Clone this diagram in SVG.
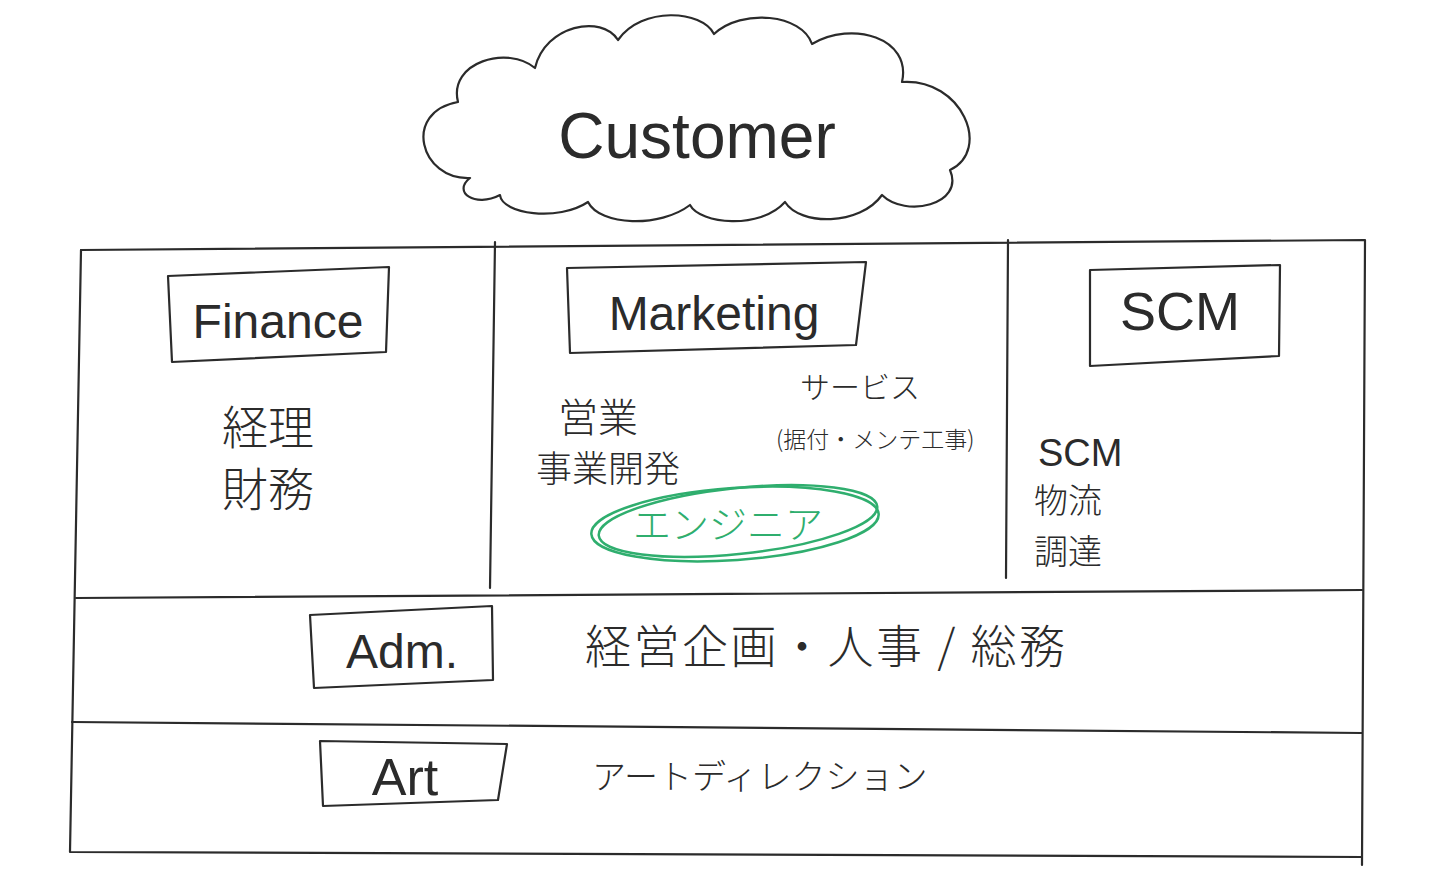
<svg xmlns="http://www.w3.org/2000/svg" width="1440" height="885" viewBox="0 0 1440 885">
<style>
.ln{fill:none;stroke:#2b2b2b;stroke-width:2.2;stroke-linecap:round;stroke-linejoin:round}
.t{font-family:"Noto Sans CJK JP","Liberation Sans",sans-serif;fill:#2b2b2b;font-weight:300}
.lat{font-family:"Liberation Sans","DejaVu Sans",sans-serif;fill:#2b2b2b}
.g{fill:none;stroke:#2fae6e;stroke-width:2.5}
</style>
<rect width="1440" height="885" fill="#ffffff"/>
<g id="customer">
<path class="ln" d="M470,178 C420,180 402,112 458,102 C448,62 508,45 535,68 C545,25 602,14 618,40 C642,6 702,10 714,34 C742,8 802,14 812,44 C852,20 912,38 902,82 C962,78 992,150 950,170 C965,205 905,218 882,195 C860,226 800,226 785,202 C760,230 700,224 690,205 C660,228 600,226 588,202 C558,222 502,214 500,195 C475,208 452,192 470,178 Z"/>
<text class="lat" x="697" y="158" font-size="64" text-anchor="middle">Customer</text>
</g>
<g id="frame">
<path class="ln" d="M81,250 L1365,240 L1362,865"/>
<path class="ln" d="M81,250 L70,852 L1362,857"/>
<path class="ln" d="M495,242 L490,588"/>
<path class="ln" d="M1008,240 L1006,578"/>
<path class="ln" d="M76,598 L1362,590"/>
<path class="ln" d="M72,722 L1362,733"/>
</g>
<g id="finance">
<path class="ln" d="M168,276 L389,267 L386,352 L172,362 Z"/>
<text class="lat" x="278" y="338" font-size="48" text-anchor="middle">Finance</text>
<text class="t" x="222" y="444" font-size="46">経理</text>
<text class="t" x="222" y="506" font-size="46">財務</text>
</g>
<g id="marketing">
<path class="ln" d="M567,268 L866,262 L856,345 L570,353 Z"/>
<text class="lat" x="714" y="330" font-size="48" text-anchor="middle">Marketing</text>
<text class="t" x="558" y="432" font-size="40">営業</text>
<text class="t" x="536" y="482" font-size="36">事業開発</text>
<text class="t" x="800" y="398" font-size="30">サービス</text>
<text class="t" x="776" y="448" font-size="23">(据付・メンテ工事)</text>
</g>
<g id="engineer">
<ellipse class="g" cx="735" cy="524" rx="144" ry="36" transform="rotate(-4 735 524)"/>
<ellipse class="g" cx="738" cy="521" rx="140" ry="33" transform="rotate(-6 738 521)" stroke-width="1.5"/>
<text class="t" x="728" y="538" font-size="38" text-anchor="middle" style="fill:#2fae6e">エンジニア</text>
</g>
<g id="scm">
<path class="ln" d="M1090,270 L1280,265 L1279,356 L1090,366 Z"/>
<text class="lat" x="1180" y="330" font-size="54" text-anchor="middle">SCM</text>
<text class="lat" x="1038" y="466" font-size="38">SCM</text>
<text class="t" x="1034" y="513" font-size="34">物流</text>
<text class="t" x="1034" y="564" font-size="34">調達</text>
</g>
<g id="adm">
<path class="ln" d="M310,615 L492,606 L493,680 L314,688 Z"/>
<text class="lat" x="402" y="668" font-size="48" text-anchor="middle">Adm.</text>
<text class="t" x="585" y="663" font-size="46" letter-spacing="2.5">経営企画・人事 / 総務</text>
</g>
<g id="art">
<path class="ln" d="M320,741 L507,744 L498,800 L323,806 Z"/>
<text class="lat" x="405" y="795" font-size="52" text-anchor="middle">Art</text>
<text class="t" x="592" y="789" font-size="34">アートディレクション</text>
</g>
</svg>
